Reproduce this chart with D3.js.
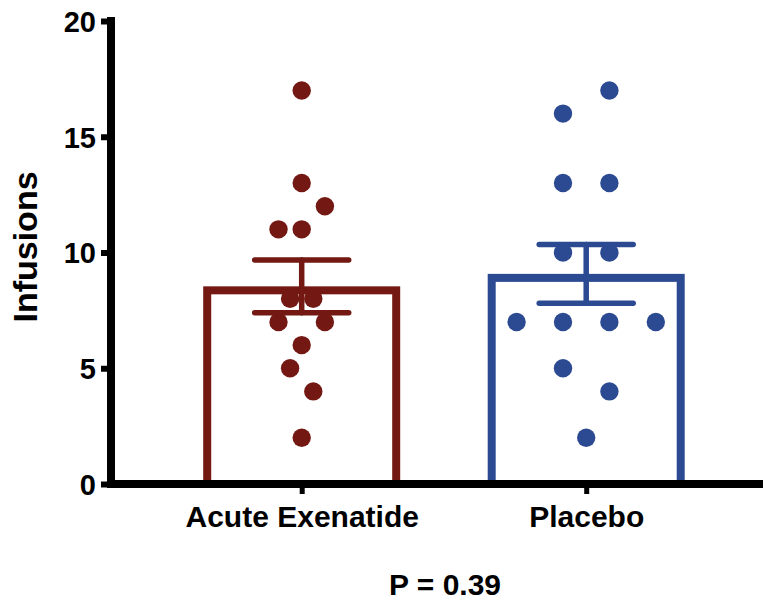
<!DOCTYPE html>
<html><head><meta charset="utf-8">
<script src="https://cdn.jsdelivr.net/npm/d3@7"></script>
<style>body{margin:0;background:#fff}text{font-family:"Liberation Sans",Arial,sans-serif;font-weight:bold;fill:#000}</style>
</head><body><svg id="c" width="763" height="604"></svg>
<script>
const categories = ["Acute Exenatide", "Placebo"];
const colors = ["#731812", "#2c4a92"];
const exenatideValues = [17, 13, 12, 11, 11, 8, 8, 7, 7, 6, 5, 4, 2];
const exenatideSlots  = [0, 0, 2, -2, 0, -1, 1, -2, 2, 0, -1, 1, 0];
const placeboValues = [17, 16, 13, 13, 10, 10, 7, 7, 7, 7, 5, 4, 2];
const placeboSlots  = [2, -2, -2, 2, -2, 2, -6, -2, 2, 6, -2, 2, 0];
const yTicks = [0, 5, 10, 15, 20];
const yLabel = "Infusions";
const pLabel = "P = 0.39";

const groups = [
  {name: categories[0], values: exenatideValues, slots: exenatideSlots, color: colors[0]},
  {name: categories[1], values: placeboValues, slots: placeboSlots, color: colors[1]}
];
groups.forEach(g => {
  g.mean = d3.mean(g.values);
  g.sem = d3.deviation(g.values) / Math.sqrt(g.values.length);
});

const svg = d3.select("#c");
const y = d3.scaleLinear().domain([0, 20]).range([484, 21]);
const x = d3.scalePoint().domain(categories).range([301.7, 586.2]);
const barW = 197, bs = 8, slotW = 11.6;

// bars (stroke inside)
svg.selectAll("rect.bar").data(groups).join("rect")
  .attr("x", d => x(d.name) - barW / 2 + bs / 2)
  .attr("y", d => y(d.mean) + bs / 2)
  .attr("width", barW - bs)
  .attr("height", d => y(0) - y(d.mean) - bs / 2)
  .attr("fill", "none").attr("stroke", d => d.color).attr("stroke-width", bs);

// dots
groups.forEach(g => {
  svg.selectAll(null).data(g.values.map((v, i) => ({v, s: g.slots[i]}))).join("circle")
    .attr("cx", d => x(g.name) + d.s * slotW)
    .attr("cy", d => y(d.v))
    .attr("r", 9.2)
    .attr("fill", g.color);
});

// error bars
groups.forEach(g => {
  const e = svg.append("g").attr("stroke", g.color).attr("stroke-width", 5.5).attr("stroke-linecap", "round");
  const cx = x(g.name);
  e.append("line").attr("x1", cx).attr("x2", cx).attr("y1", y(g.mean + g.sem)).attr("y2", y(g.mean - g.sem));
  [g.mean + g.sem, g.mean - g.sem].forEach(v =>
    e.append("line").attr("x1", cx - 47).attr("x2", cx + 47).attr("y1", y(v)).attr("y2", y(v)));
});

// y axis
const yAxis = svg.append("g").attr("transform", "translate(111,0)")
  .call(d3.axisLeft(y).tickValues(yTicks).tickSize(10).tickPadding(6).tickFormat(d3.format("d")));
yAxis.select(".domain").remove();
yAxis.selectAll(".tick line").attr("stroke", "#000").attr("stroke-width", 6);
yAxis.selectAll(".tick text").attr("font-size", 29).attr("dy", "0.36em").attr("x", -15);
svg.append("line").attr("x1", 111).attr("x2", 111).attr("y1", 17).attr("y2", 488)
  .attr("stroke", "#000").attr("stroke-width", 8);

// x axis
const xAxis = svg.append("g").attr("transform", "translate(0,484)")
  .call(d3.axisBottom(x).tickSize(10).tickPadding(12));
xAxis.select(".domain").remove();
xAxis.selectAll(".tick line").attr("stroke", "#000").attr("stroke-width", 5);
xAxis.selectAll(".tick text").attr("font-size", 30).attr("dy", "0.71em");
svg.append("line").attr("x1", 107).attr("x2", 763).attr("y1", 484).attr("y2", 484)
  .attr("stroke", "#000").attr("stroke-width", 8);

// y label
svg.append("text").attr("transform", "translate(37,247) rotate(-90)")
  .attr("text-anchor", "middle").attr("font-size", 34).text(yLabel);

// p label
svg.append("text").attr("x", 445).attr("y", 595).attr("text-anchor", "middle")
  .attr("font-size", 30).text(pLabel);
</script></body></html>
